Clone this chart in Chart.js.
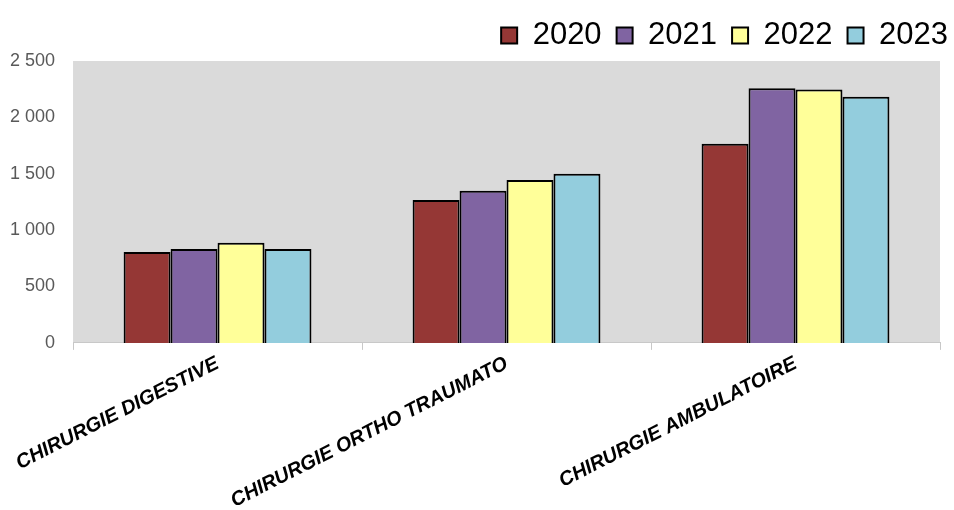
<!DOCTYPE html>
<html>
<head>
<meta charset="utf-8">
<script src="https://cdn.jsdelivr.net/npm/chart.js@4.4.0/dist/chart.umd.min.js"></script>
<style>
  html, body { margin: 0; padding: 0; background: #fff; }
  #wrap { width: 954px; height: 510px; }
</style>
</head>
<body>
<div id="wrap"><canvas id="graficoChirurgie"></canvas></div>
<script>
var categorias = ['CHIRURGIE DIGESTIVE', 'CHIRURGIE ORTHO TRAUMATO', 'CHIRURGIE AMBULATOIRE'];
var anos = ['2020', '2021', '2022', '2023'];
var valores2020 = [807, 1268, 1767];
var valores2021 = [833, 1350, 2258];
var valores2022 = [889, 1445, 2248];
var valores2023 = [832, 1501, 2184];
var cores = ['#953735', '#8064a2', '#ffff99', '#93cddd'];
var ticksY = [0, 500, 1000, 1500, 2000, 2500];

// fond gris de la zone de tracé
var fundoPlot = {
    id: 'fundoPlot',
    beforeDraw: function (chart) {
        var a = chart.chartArea;
        var ctx = chart.ctx;
        ctx.save();
        ctx.fillStyle = '#dadada';
        ctx.fillRect(a.left, a.top, a.right - a.left, a.bottom - a.top);
        ctx.restore();
    }
};

// légende poussée vers le bord droit
var legendaDireita = {
    id: 'legendaDireita',
    afterLayout: function (chart) {
        var l = chart.legend;
        if (l) { l.left += 9; l.right += 9; }
    }
};

function formatar(v) {
    return String(v).replace(/\B(?=(\d{3})+(?!\d))/g, ' ');
}

var series = [valores2020, valores2021, valores2022, valores2023];
var datasets = anos.map(function (ano, i) {
    return {
        label: ano,
        data: series[i],
        backgroundColor: cores[i],
        borderColor: '#000',
        borderWidth: 2,
        borderSkipped: 'bottom',
        barPercentage: 1,
        categoryPercentage: 0.65
    };
});

var ctx = document.getElementById('graficoChirurgie').getContext('2d');
var grafico = new Chart(ctx, {
    type: 'bar',
    data: { labels: categorias, datasets: datasets },
    plugins: [fundoPlot, legendaDireita],
    options: {
        responsive: true,
        maintainAspectRatio: false,
        animation: false,
        layout: { padding: { top: 5, right: 0, left: 0, bottom: 0 } },
        plugins: {
            tooltip: { enabled: false },
            legend: {
                position: 'top',
                align: 'end',
                labels: {
                    boxWidth: 16,
                    boxHeight: 16,
                    padding: 15,
                    color: '#000',
                    font: { family: 'Liberation Sans, Arial, sans-serif', size: 31 }
                }
            }
        },
        scales: {
            x: {
                // les libellés inclinés peuvent déborder à gauche
                afterFit: function (axis) {
                    axis.paddingLeft = 0;
                    axis.height -= 5;
                },
                grid: {
                    display: true,
                    drawOnChartArea: false,
                    drawTicks: true,
                    tickLength: 7,
                    color: '#c8c8c8',
                    offset: true
                },
                border: { display: true, color: '#c8c8c8', width: 1 },
                ticks: {
                    color: '#000',
                    minRotation: 27,
                    maxRotation: 27,
                    autoSkip: false,
                    padding: 2,
                    font: { family: 'Liberation Sans, Arial, sans-serif', size: 20, weight: 'bold', style: 'italic' }
                }
            },
            y: {
                min: 0,
                max: 2500,
                afterBuildTicks: function (axis) {
                    axis.ticks = ticksY.map(function (v) { return { value: v }; });
                },
                grid: { display: false },
                border: { display: false },
                ticks: {
                    color: '#595959',
                    padding: 10,
                    font: { family: 'Liberation Sans, Arial, sans-serif', size: 18 },
                    callback: function (v) { return formatar(v); }
                }
            },
            // marge droite de la zone de tracé
            margem: {
                position: 'right',
                display: true,
                afterFit: function (axis) { axis.width = 14; },
                grid: { display: false },
                border: { display: false },
                ticks: { display: false }
            }
        }
    }
});
</script>
</body>
</html>
